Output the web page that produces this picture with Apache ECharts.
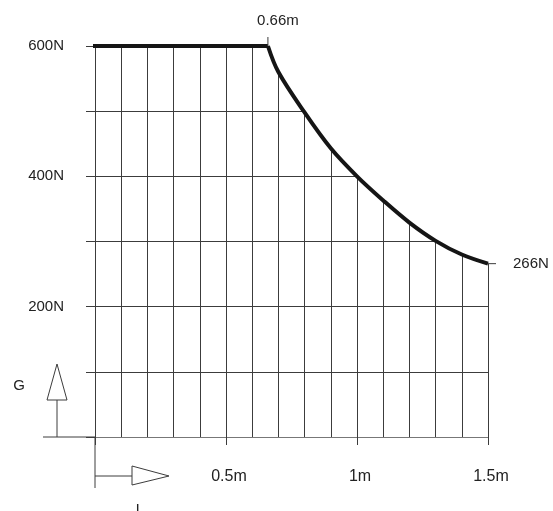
<!DOCTYPE html>
<html>
<head>
<meta charset="utf-8">
<script src="https://cdn.jsdelivr.net/npm/echarts@6/dist/echarts.min.js"></script>
<style>
  html, body { margin: 0; padding: 0; background: #fff; }
  #chart { width: 553px; height: 511px; }
</style>
</head>
<body>
<div id="chart"></div>
<script>
// load curve G over arm length L
var flatL = [-0.03, 0.66];
var flatG = [600, 600];
var curveL = [0.66, 0.7, 0.8, 0.9, 1.0, 1.1, 1.2, 1.3, 1.4, 1.5];
var curveG = [600, 560, 498, 443, 400, 363, 329, 301, 280, 266];
var yLabels = [200, 400, 600];
var xLabels = [0.5, 1, 1.5];
var kneeL = 0.66, kneeG = 600;
var endL = 1.5, endG = 266;

var font = 'Liberation Sans, Arial, Helvetica, sans-serif';
var ink = '#222';
var gridColor = '#3c3c3c';

var zip = function (xs, ys) { return xs.map(function (x, i) { return [x, ys[i]]; }); };

var chart = echarts.init(document.getElementById('chart'));

var option = {
  animation: false,
  backgroundColor: '#fff',
  grid: { left: 95, right: 65, top: 46, bottom: 74 },
  xAxis: [
    {
      type: 'value', min: 0, max: 1.5, interval: 0.1,
      axisLine: { show: true, onZero: false, lineStyle: { color: '#777', width: 1 } },
      axisTick: { show: false },
      axisLabel: { show: false },
      splitLine: { show: true, lineStyle: { color: gridColor, width: 1 } }
    },
    {
      type: 'value', min: 0, max: 1.5, interval: 0.5, position: 'bottom',
      axisLine: { show: false },
      axisTick: { show: true, length: 8, lineStyle: { color: gridColor } },
      splitLine: { show: false },
      axisLabel: {
        margin: 32, color: ink, fontFamily: font, fontSize: 16, padding: [0, 0, 0, 6],
        formatter: function (v) { return xLabels.indexOf(v) >= 0 ? v + 'm' : ''; }
      }
    }
  ],
  yAxis: {
    type: 'value', min: 0, max: 600, interval: 100,
    axisLine: { show: false },
    axisTick: { show: true, length: 9, lineStyle: { color: gridColor } },
    splitLine: { show: true, showMaxLine: false, lineStyle: { color: gridColor, width: 1 } },
    axisLabel: {
      margin: 31, color: ink, fontFamily: font, fontSize: 15,
      formatter: function (v) { return yLabels.indexOf(v) >= 0 ? v + 'N' : ''; }
    }
  },
  series: [
    {
      type: 'line', xAxisIndex: 0, data: zip(curveL, curveG), smooth: 0.35, symbol: 'none',
      lineStyle: { color: '#151515', width: 4 },
      areaStyle: { color: '#fff', opacity: 1, origin: 'end' },
      z: 3
    },
    {
      type: 'line', xAxisIndex: 0, data: zip(flatL, flatG), symbol: 'none', clip: false,
      lineStyle: { color: '#151515', width: 4 },
      z: 4
    }
  ]
};
chart.setOption(option);

var P = function (x, y) { return chart.convertToPixel({ seriesIndex: 0 }, [x, y]); };
var o = P(0, 0);
var knee = P(kneeL, kneeG);
var end = P(endL, endG);
var stroke = { stroke: gridColor, lineWidth: 1 };
var txt = function (text, x, y, align, vAlign) {
  return { type: 'text', x: x, y: y, z: 10,
    style: { text: text, fill: ink, font: '15px ' + font, align: align, verticalAlign: vAlign } };
};
var line = function (x1, y1, x2, y2) {
  return { type: 'line', z: 10, shape: { x1: x1, y1: y1, x2: x2, y2: y2 }, style: stroke };
};

// white mask over the grid above the curve (sits under the series line)
var mask = curveL.map(function (l, i) { return P(l, curveG[i]); });
mask.push([end[0] + 2, end[1]], [end[0] + 2, knee[1] - 2], [knee[0], knee[1] - 2]);

option.graphic = [
  { type: 'polygon', z: 1, shape: { points: mask }, style: { fill: '#fff', stroke: null } },
  line(43, o[1], o[0], o[1]),
  line(o[0], o[1], o[0], 488),
  // G arrow
  line(57, o[1], 57, 400),
  { type: 'polygon', z: 10, shape: { points: [[47, 400], [67, 400], [57, 364]] },
    style: { fill: '#fff', stroke: gridColor, lineWidth: 1 } },
  txt('G', 19, 386, 'center', 'middle'),
  // L arrow
  line(o[0], 476, 132, 476),
  { type: 'polygon', z: 10, shape: { points: [[132, 466], [132, 485], [169, 476]] },
    style: { fill: '#fff', stroke: gridColor, lineWidth: 1 } },
  txt('L', 140, 502, 'center', 'top'),
  // knee marker
  line(knee[0], knee[1], knee[0], knee[1] - 9),
  txt(kneeL + 'm', knee[0] + 10, knee[1] - 25, 'center', 'middle'),
  // end marker
  line(end[0], end[1], end[0] + 8, end[1]),
  txt(endG + 'N', end[0] + 25, end[1], 'left', 'middle')
];

chart.clear();
chart.setOption(option, true);
</script>
</body>
</html>
